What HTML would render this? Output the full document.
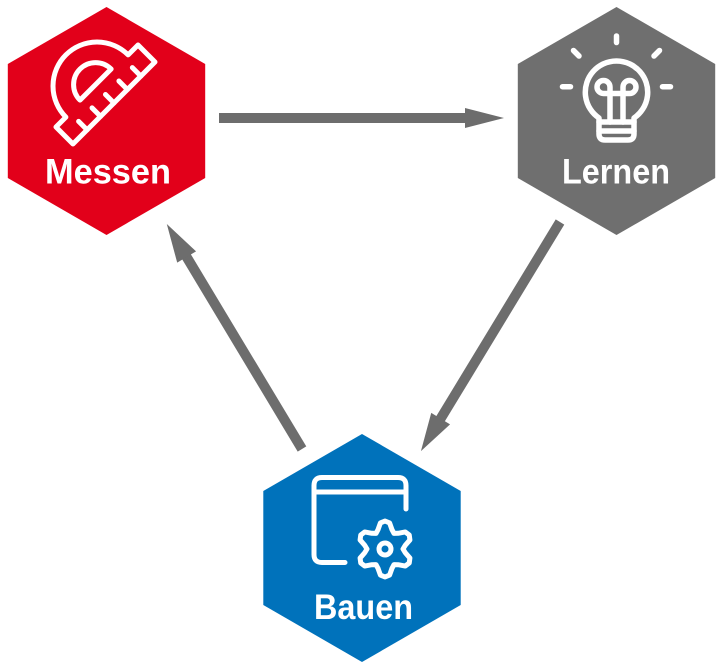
<!DOCTYPE html>
<html>
<head>
<meta charset="utf-8">
<style>
  html,body{margin:0;padding:0;background:#fff;}
  svg{display:block;}
  text{font-family:"Liberation Sans",Arial,sans-serif;font-weight:bold;font-size:35px;fill:#fff;}
</style>
</head>
<body>
<svg width="723" height="664" viewBox="0 0 723 664" xmlns="http://www.w3.org/2000/svg">
  <rect width="723" height="664" fill="#fff"/>

  <!-- Hexagons -->
  <polygon points="106.5,7 205.2,64 205.2,178 106.5,235 7.8,178 7.8,64" fill="#e2001a"/>
  <polygon points="616.5,7 715.2,64 715.2,178 616.5,235 517.8,178 517.8,64" fill="#6f6f6f"/>
  <polygon points="362,434 460.7,491 460.7,605 362,662 263.3,605 263.3,491" fill="#0072bb"/>

  <!-- Arrows -->
  <g fill="#6d6d6d">
    <rect x="219" y="113" width="247" height="10"/>
    <polygon points="465,108 504,118 465,128"/>
    <g transform="translate(560,222) rotate(121.26)">
      <rect x="0" y="-5" width="231" height="10"/>
      <polygon points="230,-11 268,0 230,11"/>
    </g>
    <g transform="translate(302,449) rotate(-121)">
      <rect x="0" y="-5" width="225" height="10"/>
      <polygon points="224,-11 262.5,0 224,11"/>
    </g>
  </g>

  <!-- Protractor icon -->
  <g transform="translate(97,86) rotate(-45)" fill="none" stroke="#fff" stroke-width="5" stroke-linejoin="round" stroke-linecap="round">
    <path d="M -44 0 A 44 44 0 0 1 44 0 L 58 0 L 58 24 L -58 24 L -58 0 Z"/>
    <path d="M -22 -2 A 22 22 0 0 1 22 -2 Z"/>
    <line x1="-38" y1="24" x2="-38" y2="12"/>
    <line x1="-19" y1="24" x2="-19" y2="12"/>
    <line x1="0" y1="24" x2="0" y2="12"/>
    <line x1="19" y1="24" x2="19" y2="12"/>
    <line x1="38" y1="24" x2="38" y2="12"/>
  </g>

  <!-- Lightbulb icon -->
  <g fill="none" stroke="#fff" stroke-width="5.5" stroke-linecap="round" stroke-linejoin="round">
    <line x1="616.5" y1="36" x2="616.5" y2="42.5"/>
    <line x1="573.5" y1="50.5" x2="579" y2="56"/>
    <line x1="659.5" y1="50.5" x2="654" y2="56"/>
    <line x1="562.5" y1="86.7" x2="570.5" y2="86.7"/>
    <line x1="662.5" y1="86.7" x2="670.5" y2="86.7"/>
    <path d="M 599 118 A 31.2 31.2 0 1 1 634 118 V 134 Q 634 140 628 140 H 605 Q 599 140 599 134 Z"/>
    <line x1="599" y1="122" x2="634" y2="122"/>
    <line x1="599" y1="131" x2="634" y2="131"/>
    <path d="M 610 122 V 87 A 6.5 6.5 0 1 0 603.5 93.5 H 629.5 A 6.5 6.5 0 1 0 623 87 V 122"/>
  </g>

  <!-- Window + gear icon -->
  <g fill="none" stroke="#fff" stroke-width="5" stroke-linecap="round" stroke-linejoin="round">
    <path d="M 345 562.5 H 322 Q 314 562.5 314 554.5 V 485.5 Q 314 477.5 322 477.5 H 398 Q 406 477.5 406 485.5 V 509"/>
    <line x1="314" y1="492" x2="406" y2="492"/>
    <g transform="translate(385,549)">
      <polygon points="18,0 20.19,3.57 24.91,9.06 24.25,14 20.3,17.04 13.18,15.7 9,15.59 7.01,19.26 4.6,26.1 0,28 -4.6,26.1 -7.01,19.26 -9,15.59 -13.18,15.7 -20.3,17.04 -24.25,14 -24.91,9.06 -20.19,3.57 -18,0 -20.19,-3.57 -24.91,-9.06 -24.25,-14 -20.3,-17.04 -13.18,-15.7 -9,-15.59 -7.01,-19.26 -4.6,-26.1 0,-28 4.6,-26.1 7.01,-19.26 9,-15.59 13.18,-15.7 20.3,-17.04 24.25,-14 24.91,-9.06 20.19,-3.57"/>
      <circle cx="0" cy="0" r="6"/>
    </g>
  </g>

  <!-- Labels -->
  <text x="45" y="183.3" textLength="126" lengthAdjust="spacingAndGlyphs">Messen</text>
  <text x="562" y="183.3" textLength="108" lengthAdjust="spacingAndGlyphs">Lernen</text>
  <text x="314" y="619" textLength="99" lengthAdjust="spacingAndGlyphs">Bauen</text>
</svg>
</body>
</html>
